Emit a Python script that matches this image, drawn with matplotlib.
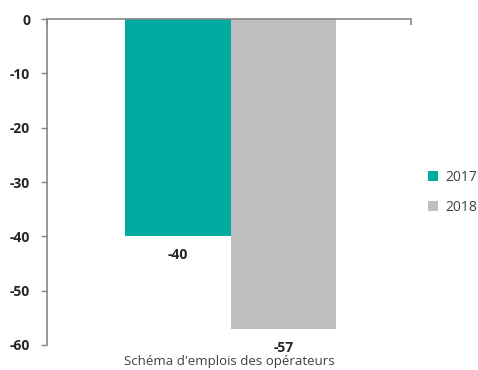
import matplotlib.pyplot as plt
from matplotlib.patches import Patch

plt.rcParams['font.family'] = ['Open Sans', 'DejaVu Sans']

category = "Schéma d'emplois des opérateurs"
years = ["2017", "2018"]
values = [-40, -57]
colors = ["#00AC9F", "#BFBFBF"]
yticks = [0, -10, -20, -30, -40, -50, -60]

textColor = "#262626"
axisColor = "#868686"

fig = plt.figure(figsize=(4.78, 3.70), dpi=100)
ax = fig.add_axes([0.098, 0.0676, 0.762, 0.881])

barWidth = 0.29
positions = [-barWidth / 2 + 0.005, barWidth / 2 + 0.005]
bars = ax.bar(positions, values, width=barWidth, color=colors, edgecolor="none", zorder=2)

for bar, value in zip(bars, values):
    ax.text(bar.get_x() + bar.get_width() / 2, value - 2.2, f"{value}",
            ha="center", va="top", fontsize=10, fontweight="bold", color=textColor)

ax.set_xlim(-0.5, 0.5)
ax.set_ylim(-60, 0)
ax.set_yticks(yticks)
ax.set_yticklabels([str(t) for t in yticks], fontsize=10, fontweight="bold", color=textColor)
ax.tick_params(axis="y", direction="out", length=4, color=axisColor, width=1, pad=8)

ax.xaxis.tick_top()
ax.set_xticks([-0.5, 0.5])
ax.set_xticklabels([])
ax.tick_params(axis="x", direction="in", length=4, color=axisColor, width=1.2)

for side in ["right", "bottom"]:
    ax.spines[side].set_visible(False)
ax.spines["top"].set_color(axisColor)
ax.spines["top"].set_linewidth(1.2)
ax.spines["top"].set_zorder(3)
ax.spines["left"].set_color(axisColor)
ax.spines["left"].set_linewidth(1.2)

fig.text(0.479, 0.022, category, ha="center", va="center", fontsize=9.5, color="#404040")

handles = [Patch(facecolor=c, edgecolor="none") for c in colors]
fig.legend(handles, years, loc="center left", bbox_to_anchor=(0.87, 0.48),
           frameon=False, fontsize=10, handlelength=0.7, handleheight=0.7,
           handletextpad=0.5, labelspacing=1.05, labelcolor="#404040")

fig.savefig("out.png", dpi=100)
